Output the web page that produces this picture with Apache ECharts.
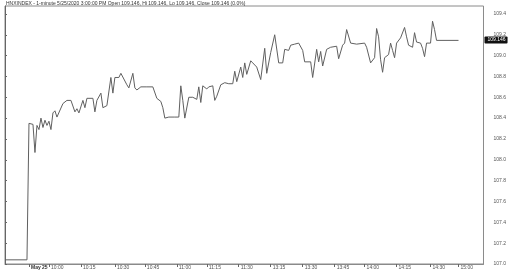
<!DOCTYPE html>
<html><head><meta charset="utf-8">
<script src="https://cdn.jsdelivr.net/npm/echarts@6/dist/echarts.min.js"></script>
<style>html,body{margin:0;padding:0;background:#fff}#c{width:509px;height:273px}</style>
</head><body><div id="c"></div>
<script>
// bar position (1 unit = one 1-minute bar slot) and price
const barIdx = [0,11,12,14,15,16,17,18,19,20,21,22,23,24,25,26,27,29,30,31,33,35,36,37,39,40,41,44,45,46,48,49,51,52,53,54,55,57,58,59,61,62,63,64,65,66,68,71,72,74,75,76,78,79,80,82,85,87,88,89,90,91,92,94,96,97,98,99,101,102,104,105,106,108,110,112,114,115,116,118,119,120,121,123,124,125,126,128,130,131,133,135,137,139,140,142,143,145,147,149,150,153,154,156,157,158,159,160,161,163,166,167,169,170,171,173,174,176,177,180,181,183,184,185,186,187,188,189,190,191,192,193,194,195,196,197,198,200,201,202,204,205,206,208,209,210,211,213,214,215,216,227];
const price = [107.04,107.04,108.35,108.34,108.07,108.33,108.29,108.40,108.31,108.38,108.33,108.37,108.29,108.45,108.47,108.41,108.40,108.54,108.55,108.57,108.57,108.46,108.49,108.45,108.57,108.50,108.59,108.59,108.46,108.57,108.64,108.50,108.52,108.53,108.79,108.64,108.79,108.79,108.83,108.84,108.72,108.69,108.70,108.83,108.69,108.67,108.70,108.70,108.69,108.70,108.70,108.59,108.56,108.50,108.40,108.41,108.41,108.41,108.71,108.57,108.40,108.41,108.60,108.60,108.58,108.70,108.55,108.71,108.68,108.70,108.71,108.57,108.61,108.72,108.74,108.73,108.73,108.85,108.75,108.89,108.79,108.93,108.82,108.95,108.93,108.93,108.89,108.77,109.07,108.83,109.03,109.20,108.93,108.93,109.06,109.05,109.10,109.11,109.12,109.05,108.94,108.94,108.79,109.06,108.94,109.04,108.90,108.89,109.06,109.08,109.09,108.97,109.10,109.12,109.25,109.12,109.12,109.11,109.12,109.12,109.08,108.93,108.92,108.98,109.26,109.18,108.96,108.84,108.98,108.99,109.01,109.12,109.05,108.98,109.12,109.13,109.17,109.27,109.18,109.10,109.08,109.22,109.13,109.12,109.07,108.99,109.12,109.12,109.33,109.25,109.146,109.146];
const tickIdx = [12,22,38,55,70,86,101,117,133,149,165,180,196,213,227];
const tickLabels = ['May 25','10:00','10:15','10:30','10:45','11:00','11:15','11:30','13:15','13:30','13:45','14:00','14:15','14:30','15:00'];
const lastClose = '109.146';
const titleText = 'HNXINDEX - 1-minute 5/25/2020 3:00:00 PM Open 109.146, Hi 109.146, Lo 109.146, Close 109.146 (0.0%)';

const labelMap = {};
tickIdx.forEach((v, i) => { labelMap[v] = tickLabels[i]; });
const seriesData = barIdx.map((x, i) => [x, price[i]]);

const chart = echarts.init(document.getElementById('c'), null, {renderer: 'canvas'});
const FONT = '"Liberation Sans", Arial, sans-serif';
chart.setOption({
  animation: false,
  backgroundColor: '#fff',
  title: {
    text: titleText, left: 6, top: 1, padding: 0,
    textStyle: {fontSize: 5, fontWeight: 'normal', color: '#333', fontFamily: FONT}
  },
  grid: {left: 5, right: 25, top: 6, bottom: 9, show: true, borderColor: '#8a8a8a', borderWidth: 1, backgroundColor: 'transparent'},
  xAxis: {
    type: 'value', min: 0, max: 239.5,
    splitLine: {show: false},
    axisLine: {show: true, lineStyle: {color: '#8a8a8a', width: 1}},
    axisTick: {show: true, customValues: tickIdx, length: 3, lineStyle: {color: '#666'}},
    axisLabel: {
      customValues: tickIdx, margin: 1, align: 'left', padding: [0, 0, 0, 2],
      hideOverlap: false, showMinLabel: true, showMaxLabel: true,
      fontSize: 5, color: '#555', fontFamily: FONT,
      formatter: v => v === tickIdx[0] ? '{b|' + labelMap[v] + '}' : (labelMap[v] || ''),
      rich: {b: {fontSize: 5, fontWeight: 'bold', color: '#333', fontFamily: FONT}}
    }
  },
  yAxis: {
    type: 'value', position: 'right', min: 107.0, max: 109.476, interval: 0.2,
    splitLine: {show: false},
    axisLine: {show: true, lineStyle: {color: '#666', width: 1}},
    axisTick: {show: true, length: 2, lineStyle: {color: '#666'}},
    axisLabel: {margin: 10, fontSize: 5, color: '#555', fontFamily: FONT, showMaxLabel: false,
      formatter: v => v.toFixed(1)}
  },
  series: [{
    type: 'line', data: seriesData, showSymbol: false, symbol: 'none', clip: false,
    lineStyle: {color: '#606060', width: 1},
    markLine: {
      silent: true, symbol: 'none',
      lineStyle: {color: 'rgba(0,0,0,0)', width: 0, opacity: 1, type: 'solid'},
      data: [{yAxis: price[price.length - 1]}],
      label: {show: true, position: 'end', distance: 1, formatter: lastClose, color: '#fff', backgroundColor: '#111',
        opacity: 1, fontSize: 5, fontFamily: FONT, padding: [1, 2, 1, 3], borderRadius: 1}
    }
  }]
});
</script></body></html>
